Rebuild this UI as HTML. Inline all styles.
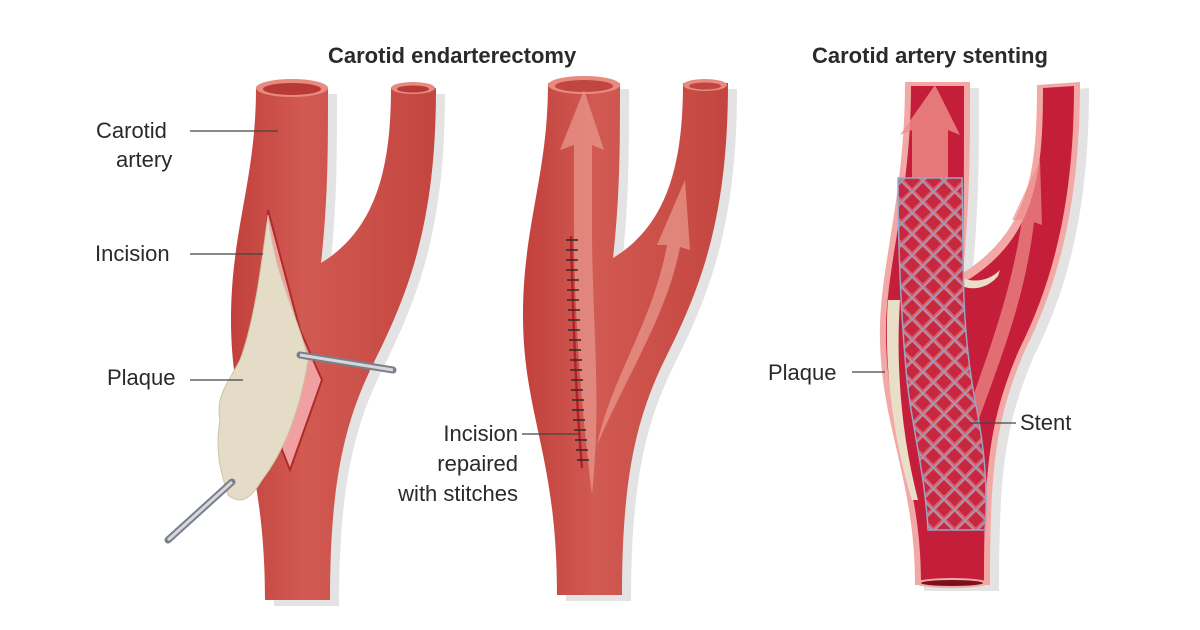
<!DOCTYPE html>
<html><head><meta charset="utf-8"><style>
html,body{margin:0;padding:0;background:#fff}
svg{display:block}
text{font-family:"Liberation Sans",sans-serif;fill:#2a2a2a}
</style></head><body>
<svg width="1200" height="630" viewBox="0 0 1200 630" xmlns="http://www.w3.org/2000/svg">
<defs>
<linearGradient id="ag" x1="0" x2="1" y1="0" y2="0">
<stop offset="0" stop-color="#c2403c"/><stop offset="0.35" stop-color="#d15a52"/><stop offset="1" stop-color="#c4453f"/>
</linearGradient>
<pattern id="mesh" width="15" height="15" patternUnits="userSpaceOnUse" patternTransform="rotate(45)">
<rect width="15" height="15" fill="#d9606a"/>
<rect x="2" y="2" width="11" height="11" fill="#c8283f"/>
<path d="M0 0H15M0 0V15" stroke="#9aa4c4" stroke-width="2.4" fill="none"/>
</pattern>
<path id="art" d="M256,88 C256,180 231,230 231,320 C231,420 265,460 265,600 L330,600 C330,480 345,420 375,360 C410,290 436,220 436,88 L391,88 C391,170 375,230 321,263 C328,200 328,150 328,88 Z"/>
<path id="art3" d="M905,82 C905,200 878,270 880,340 C882,430 915,480 915,585 L990,585 C990,470 995,420 1025,350 C1060,280 1080,200 1080,82 L1037,85 C1037,170 1030,230 963,273 C970,200 970,150 970,82 Z"/>
</defs>

<text x="328" y="63" font-size="22" font-weight="bold">Carotid endarterectomy</text>
<text x="812" y="63" font-size="22" font-weight="bold">Carotid artery stenting</text>

<!-- Artery 1 -->
<use href="#art" fill="#e3e3e3" transform="translate(9,6)"/>
<use href="#art" fill="url(#ag)"/>
<ellipse cx="292" cy="88" rx="36" ry="9" fill="#e88a80"/>
<ellipse cx="292" cy="89" rx="29" ry="6" fill="#b83a36"/>
<ellipse cx="413" cy="88" rx="22" ry="6" fill="#e88a80"/>
<ellipse cx="413" cy="89" rx="16" ry="3.5" fill="#b83a36"/>
<path d="M268,210 L300,330 L322,380 L290,470 L282,450 L262,300 Z" fill="#f0a0a0" stroke="#b02a2a" stroke-width="2"/>
<path d="M268,215 C275,280 300,320 308,360 C300,410 285,450 262,480 C250,500 240,505 228,495 C220,470 215,450 220,420 C215,395 230,380 240,360 C255,320 262,260 268,215 Z" fill="#e4dcc6" stroke="#cfc4a8" stroke-width="1"/>
<line x1="300" y1="355" x2="393" y2="370" stroke="#7a7f88" stroke-width="7" stroke-linecap="round"/>
<line x1="300" y1="355" x2="393" y2="370" stroke="#d5d9df" stroke-width="3"/>
<line x1="232" y1="482" x2="168" y2="540" stroke="#7a7f88" stroke-width="7" stroke-linecap="round"/>
<line x1="232" y1="482" x2="168" y2="540" stroke="#d5d9df" stroke-width="3"/>

<!-- Artery 2 -->
<g transform="translate(292,-5)">
<use href="#art" fill="#e3e3e3" transform="translate(9,6)"/>
<use href="#art" fill="url(#ag)"/>
<ellipse cx="292" cy="90" rx="36" ry="9" fill="#e88a80"/>
<ellipse cx="292" cy="91" rx="29" ry="6" fill="#c04640"/>
<ellipse cx="413" cy="90" rx="22" ry="6" fill="#e88a80"/>
<ellipse cx="413" cy="91" rx="16" ry="3.5" fill="#c04640"/>
<path d="M282,230 L282,150 L268,155 L292,95 L312,155 L300,150 L300,230 C300,330 310,400 300,500 C290,420 282,320 282,230 Z" fill="#e8978c" opacity="0.75"/>
<path d="M305,450 C320,380 360,330 375,250 L365,250 L393,185 L398,255 L388,252 C375,320 335,380 305,450 Z" fill="#e8978c" opacity="0.75"/>
</g>
<path d="M571,236 C573,320 576,400 582,468" stroke="#b5202a" stroke-width="2.5" fill="none"/>
<g stroke="#3a2a2a" stroke-width="1.6">
<line x1="566" y1="240" x2="578" y2="240"/><line x1="566" y1="250" x2="578" y2="250"/><line x1="566" y1="260" x2="578" y2="260"/><line x1="566" y1="270" x2="578" y2="270"/><line x1="567" y1="280" x2="579" y2="280"/><line x1="567" y1="290" x2="579" y2="290"/><line x1="567" y1="300" x2="579" y2="300"/><line x1="568" y1="310" x2="580" y2="310"/><line x1="568" y1="320" x2="580" y2="320"/><line x1="568" y1="330" x2="580" y2="330"/><line x1="569" y1="340" x2="581" y2="340"/><line x1="569" y1="350" x2="581" y2="350"/><line x1="570" y1="360" x2="582" y2="360"/><line x1="570" y1="370" x2="582" y2="370"/><line x1="571" y1="380" x2="583" y2="380"/><line x1="571" y1="390" x2="583" y2="390"/><line x1="572" y1="400" x2="584" y2="400"/><line x1="572" y1="410" x2="584" y2="410"/><line x1="573" y1="420" x2="585" y2="420"/><line x1="574" y1="430" x2="586" y2="430"/><line x1="575" y1="440" x2="587" y2="440"/><line x1="576" y1="450" x2="588" y2="450"/><line x1="577" y1="460" x2="589" y2="460"/>
</g>

<!-- Artery 3 -->
<use href="#art3" fill="#e3e3e3" transform="translate(9,6)"/>
<use href="#art3" fill="#f2a8a4"/>
<path d="M911,86 C911,200 884,270 886,340 C888,430 921,480 921,583 L984,583 C984,470 989,420 1019,350 C1054,280 1074,200 1074,86 L1043,88 C1043,175 1036,240 963,283 C964,200 964,150 964,86 Z" fill="#c41e3a"/>
<path d="M888,300 C884,350 890,430 912,500 L918,500 C900,430 896,360 900,300 Z" fill="#e9dfc8"/>
<path d="M950,270 C963,283 985,285 1000,270 L998,276 C985,292 963,292 950,278 Z" fill="#e9dfc8"/>
<path d="M912,180 L912,130 L900,135 L935,85 L960,135 L948,130 L948,180 Z" fill="#ef8f8a" opacity="0.8"/>
<path d="M965,420 C985,360 1010,300 1022,220 L1012,220 L1040,160 L1042,225 L1034,222 C1025,300 1000,360 975,430 Z" fill="#ef8f8a" opacity="0.7"/>
<path d="M898,178 L962,178 C964,260 960,320 975,400 C985,450 988,490 985,530 L928,530 C925,470 910,420 906,370 C900,300 898,230 898,178 Z" fill="url(#mesh)" stroke="#9aa4c4" stroke-width="1.5"/>
<ellipse cx="952" cy="583" rx="37" ry="5" fill="#f2a8a4"/>
<ellipse cx="952" cy="583" rx="31" ry="3" fill="#7a1020"/>

<g font-size="22">
<text x="96" y="138">Carotid</text>
<text x="116" y="167">artery</text>
<text x="95" y="261">Incision</text>
<text x="107" y="385">Plaque</text>
<text x="518" y="441" text-anchor="end">Incision</text>
<text x="518" y="471" text-anchor="end">repaired</text>
<text x="518" y="501" text-anchor="end">with stitches</text>
<text x="768" y="380">Plaque</text>
<text x="1020" y="430">Stent</text>
</g>
<g stroke="#444" stroke-width="1.3">
<line x1="190" y1="131" x2="278" y2="131"/>
<line x1="190" y1="254" x2="263" y2="254"/>
<line x1="190" y1="380" x2="243" y2="380"/>
<line x1="522" y1="434" x2="580" y2="434"/>
<line x1="852" y1="372" x2="885" y2="372"/>
<line x1="970" y1="423" x2="1016" y2="423"/>
</g>
</svg>
</body></html>
